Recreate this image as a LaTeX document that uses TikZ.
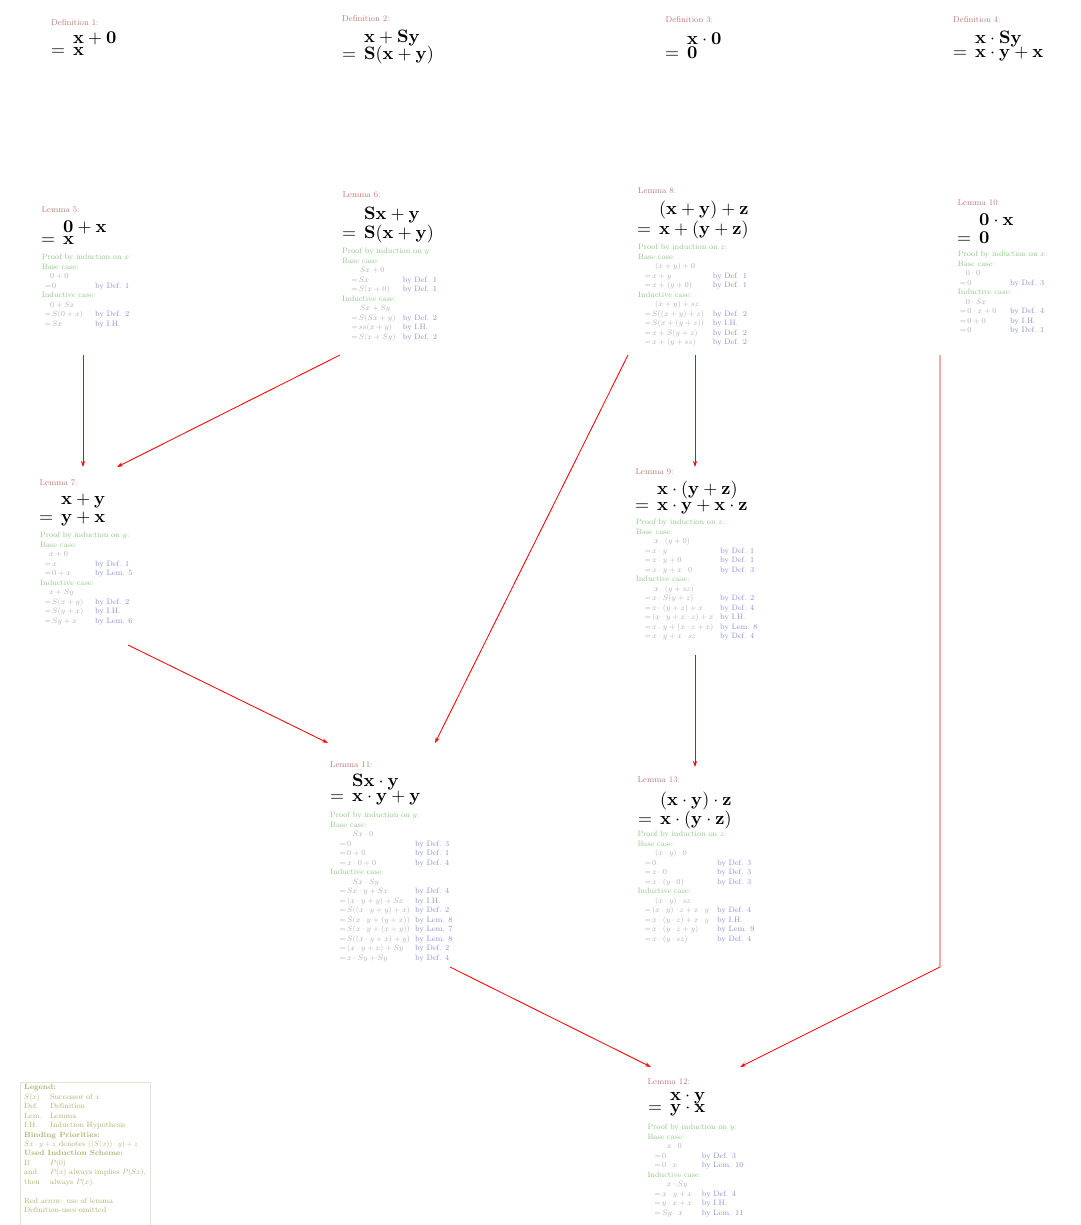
\documentclass[tikz,border=0pt]{standalone}
\usetikzlibrary{arrows.meta,calc}
\DeclareFontShape{OML}{cmm}{m}{it}{<-7.7>cmmi10<7.7-9>cmmi8<9->cmmi10}{}
\DeclareFontShape{OMS}{cmsy}{m}{n}{<-7.7>cmsy10<7.7-9>cmsy8<9->cmsy10}{}
\DeclareFontShape{OT1}{cmr}{m}{n}{<-7.7>cmr10<7.7-9>cmr8<9->cmr10}{}
\DeclareFontShape{OT1}{cmr}{bx}{n}{<->cmbx10}{}
\DeclareFontShape{OMX}{cmex}{m}{n}{<->cmex10}{}
\definecolor{ttl}{RGB}{190,120,120}
\definecolor{grn}{RGB}{140,200,130}
\definecolor{gry}{RGB}{175,175,175}
\definecolor{blu}{RGB}{140,140,210}
\definecolor{leg}{RGB}{175,175,110}
\definecolor{legbd}{RGB}{228,228,212}
\newlength\eo \newlength\fio \newlength\pw
\newcommand\bigf[1]{{\fontsize{18}{22}\selectfont$\mathbf{#1}$}}
\newcommand\hd[1]{\multicolumn{2}{@{}l@{}}{\color{grn}#1}}
\newcommand\st[1]{\hspace*{\fio}$#1$&}
\newcommand\eqr[2]{\makebox[\pw][l]{\hspace*{\eo}\makebox[7.5pt][l]{$=$}$#1$}&\color{blu}by #2}
\tikzset{
  bx/.style={draw=none, inner sep=0pt, outer sep=0pt, anchor=north west},
  ttlnode/.style={anchor=west, inner sep=0pt, text=ttl, font=\fontsize{8.5}{10}\selectfont},
  fl/.style={anchor=west, inner sep=0pt},
  prfnode/.style={anchor=north west, inner sep=0pt, text=gry, font=\fontsize{7.8}{9.5}\selectfont},
  legnode/.style={anchor=north west, inner sep=0pt, text=leg, font=\fontsize{7.6}{9.45}\selectfont},
  dep/.style={draw=red, line width=0.85pt, -{Stealth[length=6pt,width=4pt]}},
}
\newcommand\ttl[4]{\node[ttlnode] (#1t) at (#2,#3) {#4};}
\newcommand\frm[6]{%
  \node[fl] (#1a) at (#2,#3) {\hspace*{22pt}\bigf{#5}};
  \node[fl] (#1b) at (#2,#4) {\makebox[22pt][l]{\bigf{=}}\bigf{#6}};}
\newcommand\prf[7]{%
  \node[prfnode] (#1p) at (#2,#3) {\setlength\eo{#4pt}\setlength\fio{#5pt}\setlength\pw{#6pt}%
    \begin{tabular}{@{}l@{}l@{}}#7\end{tabular}};}
\begin{document}
\begin{tikzpicture}[x=1pt,y=-1pt]
\useasboundingbox (0,0) rectangle (1080,1225);
% invisible node boxes
\node[bx, minimum width=84pt, minimum height=160pt] (l5) at (41,195) {};
\node[bx, minimum width=125pt, minimum height=170pt] (l6) at (330,185) {};
\node[bx, minimum width=150pt, minimum height=175pt] (l8) at (620,180) {};
\node[bx, minimum width=120pt, minimum height=160pt] (l10) at (880,195) {};
\node[bx, minimum width=114pt, minimum height=178pt] (l7) at (26,467) {};
\node[bx, minimum width=150pt, minimum height=188pt] (l9) at (620,467) {};
\node[bx, minimum width=140pt, minimum height=224pt] (l11) at (320,743) {};
\node[bx, minimum width=150pt, minimum height=180pt] (l13) at (620,767) {};
\node[bx, minimum width=120pt, minimum height=155pt] (l12) at (640,1067) {};
\coordinate (bend) at (940,967);

% definitions
\ttl{d1}{51}{22.5}{Definition 1:}
\frm{d1}{51}{38}{52}{x+0}{x}
\ttl{d2}{342}{18.5}{Definition 2:}
\frm{d2}{342}{38}{55}{x+Sy}{S(x+y)}
\ttl{d3}{665.5}{20}{Definition 3:}
\frm{d3}{665}{39}{53}{x\cdot 0}{0}
\ttl{d4}{953}{20}{Definition 4:}
\frm{d4}{953}{39}{54}{x\cdot Sy}{x\cdot y+x}

% Lemma 5
\ttl{l5}{41.5}{210}{Lemma 5:}
\frm{l5}{41}{227}{240}{0+x}{x}
\prf{l5}{41.7}{253}{2.8}{8.3}{53.3}{%
\hd{Proof by induction on $x$:}\\
\hd{Base case:}\\
\st{0+0}\\
\eqr{0}{Def. 1}\\
\hd{Inductive case:}\\
\st{0+Sx}\\
\eqr{S(0+x)}{Def. 2}\\
\eqr{Sx}{I.H.}}

% Lemma 6
\ttl{l6}{342.5}{195}{Lemma 6:}
\frm{l6}{342}{215}{234}{Sx+y}{S(x+y)}
\prf{l6}{342}{247}{9.2}{18}{60.7}{%
\hd{Proof by induction on $y$:}\\
\hd{Base case:}\\
\st{Sx+0}\\
\eqr{Sx}{Def. 1}\\
\eqr{S(x+0)}{Def. 1}\\
\hd{Inductive case:}\\
\st{Sx+Sy}\\
\eqr{S(Sx+y)}{Def. 2}\\
\eqr{ss(x+y)}{I.H.}\\
\eqr{S(x+Sy)}{Def. 2}}

% Lemma 8
\ttl{l8}{638}{191}{Lemma 8:}
\frm{l8}{637}{210}{230}{(x+y)+z}{x+(y+z)}
\prf{l8}{638}{243}{6.5}{17}{74.7}{%
\hd{Proof by induction on $z$:}\\
\hd{Base case:}\\
\st{(x+y)+0}\\
\eqr{x+y}{Def. 1}\\
\eqr{x+(y+0)}{Def. 1}\\
\hd{Inductive case:}\\
\st{(x+y)+sz}\\
\eqr{S((x+y)+z)}{Def. 2}\\
\eqr{S(x+(y+z))}{I.H.}\\
\eqr{x+S(y+z)}{Def. 2}\\
\eqr{x+(y+sz)}{Def. 2}}

% Lemma 10
\ttl{l10}{957.5}{202.5}{Lemma 10:}
\frm{l10}{957}{220}{238}{0\cdot x}{0}
\prf{l10}{957.7}{250}{2}{8}{52.3}{%
\hd{Proof by induction on $x$:}\\
\hd{Base case:}\\
\st{0\cdot 0}\\
\eqr{0}{Def. 3}\\
\hd{Inductive case:}\\
\st{0\cdot Sx}\\
\eqr{0\cdot x+0}{Def. 4}\\
\eqr{0+0}{I.H.}\\
\eqr{0}{Def. 1}}

% Lemma 7
\ttl{l7}{39.5}{483}{Lemma 7:}
\frm{l7}{39}{501}{519}{x+y}{y+x}
\prf{l7}{40}{531}{4.5}{9}{55}{%
\hd{Proof by induction on $y$:}\\
\hd{Base case:}\\
\st{x+0}\\
\eqr{x}{Def. 1}\\
\eqr{0+x}{Lem. 5}\\
\hd{Inductive case:}\\
\st{x+Sy}\\
\eqr{S(x+y)}{Def. 2}\\
\eqr{S(y+x)}{I.H.}\\
\eqr{Sy+x}{Lem. 6}}

% Lemma 9
\ttl{l9}{635.5}{471.5}{Lemma 9:}
\frm{l9}{635}{490}{507}{x\cdot(y+z)}{x\cdot y+x\cdot z}
\prf{l9}{635.7}{518}{8.8}{18.3}{84.3}{%
\hd{Proof by induction on $z$:}\\
\hd{Base case:}\\
\st{x\cdot(y+0)}\\
\eqr{x\cdot y}{Def. 1}\\
\eqr{x\cdot y+0}{Def. 1}\\
\eqr{x\cdot y+x\cdot 0}{Def. 3}\\
\hd{Inductive case:}\\
\st{x\cdot(y+sz)}\\
\eqr{x\cdot S(y+z)}{Def. 2}\\
\eqr{x\cdot(y+z)+x}{Def. 4}\\
\eqr{(x\cdot y+x\cdot z)+x}{I.H.}\\
\eqr{x\cdot y+(x\cdot z+x)}{Lem. 8}\\
\eqr{x\cdot y+x\cdot sz}{Def. 4}}

% Lemma 11
\ttl{l11}{330}{764.5}{Lemma 11:}
\frm{l11}{330}{782}{798}{Sx\cdot y}{x\cdot y+y}
\prf{l11}{330}{811}{9.5}{22.7}{85}{%
\hd{Proof by induction on $y$:}\\
\hd{Base case:}\\
\st{Sx\cdot 0}\\
\eqr{0}{Def. 3}\\
\eqr{0+0}{Def. 1}\\
\eqr{x\cdot 0+0}{Def. 4}\\
\hd{Inductive case:}\\
\st{Sx\cdot Sy}\\
\eqr{Sx\cdot y+Sx}{Def. 4}\\
\eqr{(x\cdot y+y)+Sx}{I.H.}\\
\eqr{S((x\cdot y+y)+x)}{Def. 2}\\
\eqr{S(x\cdot y+(y+x))}{Lem. 8}\\
\eqr{S(x\cdot y+(x+y))}{Lem. 7}\\
\eqr{S((x\cdot y+x)+y)}{Lem. 8}\\
\eqr{(x\cdot y+x)+Sy}{Def. 2}\\
\eqr{x\cdot Sy+Sy}{Def. 4}}

% Lemma 13
\ttl{l13}{637.5}{779.5}{Lemma 13:}
\frm{l13}{638}{801}{820}{(x\cdot y)\cdot z}{x\cdot(y\cdot z)}
\prf{l13}{637.3}{830}{7.2}{17.7}{79.7}{%
\hd{Proof by induction on $z$:}\\
\hd{Base case:}\\
\st{(x\cdot y)\cdot 0}\\
\eqr{0}{Def. 3}\\
\eqr{x\cdot 0}{Def. 3}\\
\eqr{x\cdot(y\cdot 0)}{Def. 3}\\
\hd{Inductive case:}\\
\st{(x\cdot y)\cdot sz}\\
\eqr{(x\cdot y)\cdot z+x\cdot y}{Def. 4}\\
\eqr{x\cdot(y\cdot z)+x\cdot y}{I.H.}\\
\eqr{x\cdot(y\cdot z+y)}{Lem. 9}\\
\eqr{x\cdot(y\cdot sz)}{Def. 4}}

% Lemma 12
\ttl{l12}{647.5}{1082}{Lemma 12:}
\frm{l12}{648}{1098}{1110}{x\cdot y}{y\cdot x}
\prf{l12}{647.3}{1123}{7.2}{19.4}{54.4}{%
\hd{Proof by induction on $y$:}\\
\hd{Base case:}\\
\st{x\cdot 0}\\
\eqr{0}{Def. 3}\\
\eqr{0\cdot x}{Lem. 10}\\
\hd{Inductive case:}\\
\st{x\cdot Sy}\\
\eqr{x\cdot y+x}{Def. 4}\\
\eqr{y\cdot x+x}{I.H.}\\
\eqr{Sy\cdot x}{Lem. 11}}

% Legend
\node[legnode] (legend) at (24,1083) {\begin{tabular}{@{}p{26pt}@{}l@{}}
\multicolumn{2}{@{}l@{}}{\textbf{Legend:}}\\
$S(x)$ & Successor of $x$\\
Def. & Definition\\
Lem. & Lemma\\
I.H. & Induction Hypothesis\\
\multicolumn{2}{@{}l@{}}{\textbf{Binding Priorities:}}\\
\multicolumn{2}{@{}l@{}}{$Sx\cdot y+z$ denotes $((S(x))\cdot y)+z$}\\
\multicolumn{2}{@{}l@{}}{\textbf{Used Induction Scheme:}}\\
If & $P(0)$\\
and & $P(x)$ always implies $P(Sx)$,\\
then & always $P(x)$.\\
\multicolumn{2}{@{}l@{}}{}\\
\multicolumn{2}{@{}l@{}}{Red arrow: use of lemma}\\
\multicolumn{2}{@{}l@{}}{Definition-uses omitted}
\end{tabular}};
\draw[legbd, line width=0.8pt] (20,1082) rectangle (150,1228);

% arrows
\draw[dep] (l5.south) -- (l7.north);
\draw[dep] ($(l6.south west)+(10,0)$) -- ($(l7.north west)+(91,0)$);
\draw[dep] (l8.south) -- (l9.north);
\draw[dep] ($(l8.south west)+(8,0)$) -- ($(l11.north west)+(115,0)$);
\draw[dep] ($(l7.south west)+(102,0)$) -- ($(l11.north west)+(8,0)$);
\draw[dep] (l9.south) -- (l13.north);
\draw[dep] ($(l11.south west)+(130,0)$) -- ($(l12.north west)+(11,0)$);
\draw[dep] (l10.south) -- (bend) -- ($(l12.north west)+(100,0)$);
\end{tikzpicture}
\end{document}
